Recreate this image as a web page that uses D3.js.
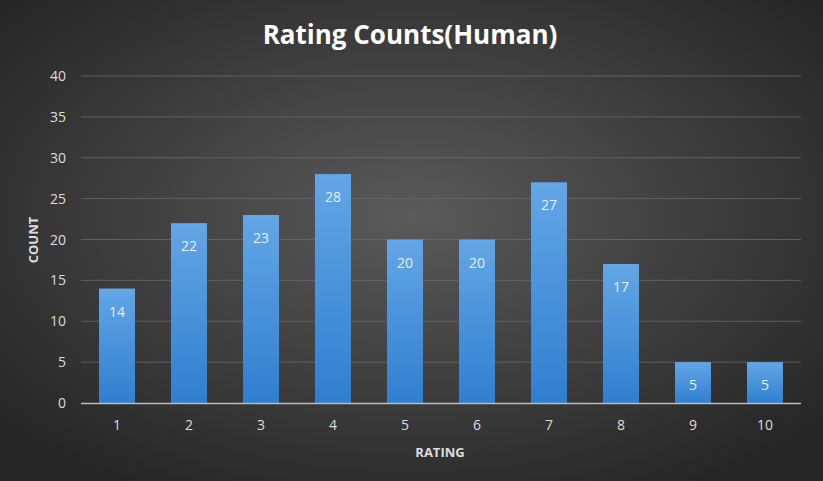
<!DOCTYPE html><html><head><script src="https://cdn.jsdelivr.net/npm/d3@7"></script>
<style>body{margin:0}svg{display:block}</style></head><body><script>
const categories=["1","2","3","4","5","6","7","8","9","10"];
const counts=[14,22,23,28,20,20,27,17,5,5];
const yTicks=[0,5,10,15,20,25,30,35,40];
const W=823,H=481;
const svg=d3.select("body").append("svg").attr("width",W).attr("height",H).style("font-family","'Open Sans',sans-serif");
const defs=svg.append("defs");
const rg=defs.append("radialGradient").attr("id","bg").attr("cx","50%").attr("cy","45%").attr("r","65%");
rg.append("stop").attr("offset","0%").attr("stop-color","#5a5a5a");
rg.append("stop").attr("offset","100%").attr("stop-color","#262626");
const lg=defs.append("linearGradient").attr("id","bar").attr("x1",0).attr("y1",0).attr("x2",0).attr("y2",1);
lg.append("stop").attr("offset","0%").attr("stop-color","#63a6e6");
lg.append("stop").attr("offset","100%").attr("stop-color","#2f7fcf");
svg.append("rect").attr("width",W).attr("height",H).attr("fill","url(#bg)");
const x=d3.scaleBand().domain(categories).range([81,801]).paddingInner(0.5).paddingOuter(0.25);
const y=d3.scaleLinear().domain([0,40]).range([403,76]);
const g=svg.append("g");
g.selectAll(".grid").data(yTicks.slice(1)).join("line").attr("x1",81).attr("x2",801).attr("y1",d=>y(d)).attr("y2",d=>y(d)).attr("stroke","#6a6a6a").attr("stroke-width",0.8);
g.selectAll(".yl").data(yTicks).join("text").attr("x",66).attr("y",d=>y(d)+5).attr("text-anchor","end").attr("fill","#ddd").attr("font-size",14).text(d=>d);
g.selectAll(".b").data(counts).join("rect").attr("x",(d,i)=>x(categories[i])).attr("width",x.bandwidth()).attr("y",d=>y(d)).attr("height",d=>y(0)-y(d)).attr("fill","url(#bar)");
g.selectAll(".v").data(counts).join("text").attr("x",(d,i)=>x(categories[i])+x.bandwidth()/2).attr("y",d=>y(d)+28).attr("text-anchor","middle").attr("fill","#e8eef5").attr("font-size",14).text(d=>d);
g.append("line").attr("x1",81).attr("x2",801).attr("y1",403.5).attr("y2",403.5).attr("stroke","#bbb").attr("stroke-width",1.5);
g.selectAll(".xl").data(categories).join("text").attr("x",d=>x(d)+x.bandwidth()/2).attr("y",430).attr("text-anchor","middle").attr("fill","#ddd").attr("font-size",14).text(d=>d);
svg.append("text").attr("x",440).attr("y",457).attr("text-anchor","middle").attr("fill","#ddd").attr("font-size",13).attr("font-weight","bold").text("RATING");
svg.append("text").attr("transform","translate(38,240) rotate(-90)").attr("text-anchor","middle").attr("fill","#ddd").attr("font-size",13).attr("font-weight","bold").text("COUNT");
svg.append("text").attr("x",410).attr("y",44).attr("text-anchor","middle").attr("fill","#fff").attr("font-size",26).attr("font-weight","bold").text("Rating Counts(Human)");
</script></body></html>
